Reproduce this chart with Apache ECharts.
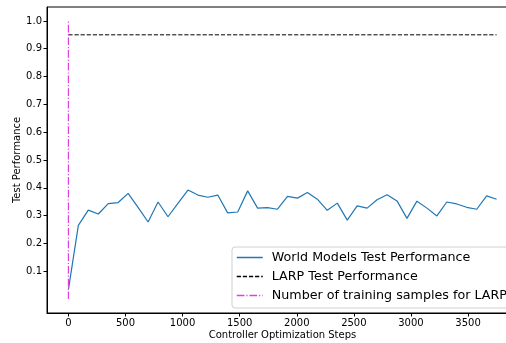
<!DOCTYPE html>
<html>
<head>
<meta charset="utf-8">
<script src="https://cdn.jsdelivr.net/npm/echarts@6/dist/echarts.min.js"></script>
<style>
html, body { margin: 0; padding: 0; background: #fff; }
#main { width: 506px; height: 343px; }
</style>
</head>
<body>
<div id="main"></div>
<script>
// data
var steps = [0, 87, 174, 262, 349, 436, 523, 610, 698, 785, 872, 959, 1047, 1134, 1221,
	1308, 1395, 1483, 1570, 1657, 1744, 1831, 1919, 2006, 2093, 2180, 2267, 2355, 2442,
	2529, 2616, 2703, 2791, 2878, 2965, 3052, 3140, 3227, 3314, 3401, 3488, 3576, 3663, 3750];
var worldModels = [0.034, 0.265, 0.320, 0.306, 0.343, 0.347, 0.380, 0.330, 0.277, 0.349,
	0.296, 0.344, 0.392, 0.374, 0.366, 0.374, 0.310, 0.313, 0.389, 0.327, 0.329, 0.323,
	0.369, 0.363, 0.383, 0.359, 0.319, 0.345, 0.284, 0.335, 0.327, 0.357, 0.375, 0.353,
	0.290, 0.352, 0.327, 0.299, 0.349, 0.342, 0.330, 0.323, 0.371, 0.359];
var larpX = [0, 3750];
var larpY = [0.95, 0.95];
var samplesX = [0, 0];
var samplesY = [0, 1.0];
var xTicks = [0, 500, 1000, 1500, 2000, 2500, 3000, 3500];
var yTicks = [0.1, 0.2, 0.3, 0.4, 0.5, 0.6, 0.7, 0.8, 0.9, 1.0];

function pairs(xs, ys) {
	var out = [];
	for (var i = 0; i < xs.length; i++) {
		out.push([xs[i], ys[i]]);
	}
	return out;
}

var font = 'DejaVu Sans';
var myChart = echarts.init(document.getElementById('main'));
var option = {
	animation: false,
	textStyle: { fontFamily: font },
	grid: {
		left: 47, top: 7, width: 471, bottom: 30,
		outerBoundsMode: 'none',
		containLabel: false,
		show: true, borderColor: '#000', borderWidth: 1
	},
	legend: {
		orient: 'vertical',
		left: 232, top: 247,
		padding: [4, 12, 6, 4],
		itemGap: 6,
		itemWidth: 26,
		itemHeight: 12,
		backgroundColor: '#fff',
		borderColor: '#d0d0d0',
		borderWidth: 1,
		borderRadius: 3,
		itemStyle: { opacity: 0 },
		lineStyle: { width: 1.5, color: 'inherit', type: 'inherit' },
		textStyle: { fontFamily: font, fontSize: 12.7, color: '#000', padding: [0, 0, 0, 4] },
		data: ['World Models Test Performance', 'LARP Test Performance', 'Number of training samples for LARP']
	},
	xAxis: {
		type: 'value',
		min: -187.5, max: 3937.5,
		name: 'Controller Optimization Steps',
		nameLocation: 'middle',
		nameGap: 17,
		nameMoveOverlap: false,
		nameTextStyle: { fontFamily: font, fontSize: 10, color: '#000' },
		splitLine: { show: false },
		axisLine: { onZero: false, lineStyle: { color: '#000', width: 1 } },
		axisTick: { show: true, length: 3.5, lineStyle: { color: '#000' }, customValues: xTicks },
		axisLabel: {
			fontFamily: font, fontSize: 10, color: '#000', margin: 5, customValues: xTicks,
			formatter: function (v) { return String(v); }
		}
	},
	yAxis: {
		type: 'value',
		min: -0.05, max: 1.05,
		name: 'Test Performance',
		nameLocation: 'middle',
		nameGap: 25,
		nameMoveOverlap: false,
		nameTextStyle: { fontFamily: font, fontSize: 10, color: '#000' },
		splitLine: { show: false },
		axisLine: { show: true, onZero: false, lineStyle: { color: '#000', width: 1 } },
		axisTick: { show: true, length: 3.5, lineStyle: { color: '#000' }, customValues: yTicks },
		axisLabel: {
			fontFamily: font, fontSize: 10, color: '#000', margin: 5, customValues: yTicks,
			formatter: function (v) { return v.toFixed(1); }
		}
	},
	series: [{
		name: 'World Models Test Performance',
		type: 'line',
		symbol: 'none',
		color: '#1f77b4',
		lineStyle: { width: 1.2, color: '#1f77b4' },
		data: pairs(steps, worldModels)
	}, {
		name: 'LARP Test Performance',
		type: 'line',
		symbol: 'none',
		color: '#000',
		lineStyle: { width: 1, color: '#000', type: [4.2, 1.9] },
		data: pairs(larpX, larpY)
	}, {
		name: 'Number of training samples for LARP',
		type: 'line',
		symbol: 'none',
		color: '#e040e0',
		lineStyle: { width: 1.2, color: '#e040e0', type: [7.7, 1.9, 1.2, 1.9] },
		data: pairs(samplesX, samplesY)
	}]
};
myChart.setOption(option);
</script>
</body>
</html>
